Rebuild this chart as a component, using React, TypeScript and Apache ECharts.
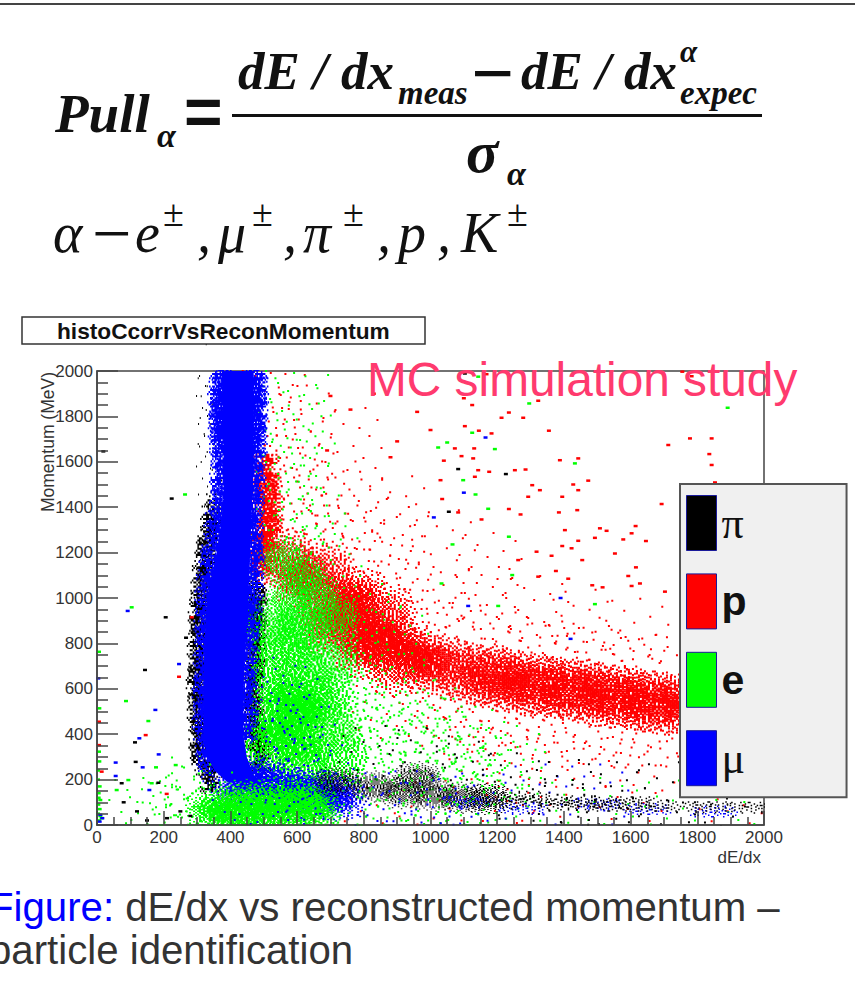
import React, { useEffect, useRef } from "react";
import * as echarts from "echarts";

const xTicks = { min: 0, max: 2000, interval: 200 };
const yTicks = { min: 0, max: 2000, interval: 200 };
const legendNames = ["π", "p", "e", "μ"];

// Hand-drawn speckle textures: one stamp marks a read-off patch of the cloud.
const cloud = [
  "..............#.................","........#...........#...........","............#....#.......#......",".....#.........#......#.........",
  "..........#.#.....##.......#....","...#....#.....#.#....#.#........","......#...#.##....#.#.....#.....","..#.....#.#...#.##...##.#....#..",
  ".....#.#..##.#.##.#.#...#.#.....","...#...#.#..###.#.##.##.#...#...",".#...#..##.#.###.##.#.#.#.#.....","....#.#.#.###.####.###.#..#..#..",
  "..#..#.##.##.###.###.##.#.#.....","#...#.#.###.#####.###.##.#..#...","...#.#.###.###.####.##.##.#...#.",".#..#.##.#####.####.###.#.#.#...",
  "...#.#.###.####.#####.##.#..#..#","#...#.##.#####.###.###.#.#.#....","..#..#.###.##.#####.##.##..#..#.","....#.#.###.####.###.###.#.#....",
  ".#...#.#.##.###.###.##.#.#...#..","...#...##.#.##.###.##.#.#.#.....",".....#.#.#.##.#.###.#.##.#..#...","..#....#.#..##.##.#.#.#...#.....",
  "....#...#.#.#.#.#.##.#.#....#...","..#...#....#.#..#.#...#...#.....",".....#..#....#.#...#.#.......#..","...#.......#.....#.....#..#.....",
  ".......#.....#.....#.......#....",".........#.......#.....#........","...........#..#......#..........","...............#................",
];
const strip = [
  "...#.....#......##....#.....#...",".#....#......#.....#......#....#","....#...##.#...#.....#.#.....#..","#.....#.....#....##.......#.....",
  "..#.....#.#....#.....#.#....#...",".....#......#.....#.......#.....","...#....#......#......#.....#...","........#....#.......#..........",
];
const sparse = [
  [3,1],[17,0],[28,4],[9,6],[22,9],[0,11],[14,12],[31,13],[6,17],[25,18],[11,21],[19,23],[2,25],[29,26],[8,31],[23,30],
];

// Black (π)
const piHaloLeft = [[345,1330],[328,1190],[316,1050],[308,910],[305,770],[302,630],[305,490],[310,350],[340,240]];
const piHaloTop = [[345,1540],[350,1700],[345,1850],[350,1990]];
const piHaloRight = [[478,980],[478,860],[474,720],[470,580],[475,440],[490,330]];
const piLowCloud = [[720,190],[830,170],[920,140],[1010,130],[1100,120],[960,210],[1170,115]];
const piLowStrip = [[1230,100],[1380,90],[1530,85],[1680,85],[1830,78],[1960,76],[1300,125],[1450,105],[1600,100]];
const piSparse = [[1250,180],[1400,150],[1550,140],[1700,140],[1850,60],[1300,50],[1500,50],[820,300],[980,290],[1100,230]];
const piSingles = [[1103,1989],[1083,1568],[1226,1546],[1055,1380],[224,1438],[19,1646],[206,915],[267,825],[144,683],[114,364],[116,278],[74,184],[184,186],[120,60],[150,20],[210,30],[250,60],[80,100],[280,40]];

// Red (p)
const pBandSolid = [[620,1090],[740,945],[800,880],[860,825],[920,775],[980,730],[780,1000],[700,880],[800,780]];
const pBandLeft = [[560,1180],[680,1010],[1040,695],[1100,672],[680,1120],[860,930],[900,700]];
const pBandRight = [[1160,655],[1220,640],[1280,625],[1340,612],[1400,600],[1460,588],[1520,575],[1580,560],[1640,548],[1700,535],[1760,525],[1190,660],[1310,610],[1430,600],[1550,565],[1670,540]];
const pStem = [[510,1300],[515,1420],[505,1540],[500,1200]];
const pFringe = [[1000,900],[1070,860],[1140,830],[1210,800],[1280,780],[1350,760],[1420,750],[1490,740],[1560,720],[1630,700],[1700,690],[1000,560],[1070,520],[1140,490],[1210,470],[1280,450],[1350,430],[1420,420],[1490,410],[1560,390],[1630,390],[1700,400],[600,1350],[680,1260],[640,1430],[760,1200],[840,1130],[920,1020],[1000,1000],[560,1650],[600,1500],[520,1850],[530,1960],[510,1700],[620,1800],[760,1700],[700,1500],[900,1400],[860,1300],[1040,1250],[1180,1150],[1160,1000],[1320,960],[1450,900],[1620,860],[900,1120],[780,1420],[1050,450],[1250,330],[1450,300],[1650,280],[860,520],[1150,250],[1350,120],[1600,40],[1000,60],[1900,30],[1250,40],[800,30]];
const pSingles = [[1778,1703],[1843,1703],[1836,1634],[1843,1586],[1853,1509],[1713,1674],[1355,1737],[1235,1817],[1213,1794],[1278,1794],[1103,1757],[1145,1737],[1183,1725],[1073,1659],[1131,1659],[1093,1625],[1128,1615],[1040,1605],[1143,1563],[1176,1556],[1253,1563],[1285,1566],[1388,1607],[1443,1615],[1473,1517],[1428,1500],[1443,1475],[1305,1497],[1328,1475],[1395,1446],[1293,1446],[1133,1534],[1030,1519],[1693,1414],[1235,1392],[1270,1368],[1385,1377],[1440,1387],[1153,1346],[1083,1377],[1035,1436],[1403,1299],[1508,1307],[1528,1296],[1603,1285],[1615,1317],[1493,1265],[1578,1258],[1646,1251],[1443,1252],[1395,1229],[1423,1219],[1553,1196],[1455,1167],[1616,1135],[1363,1186],[1318,1204],[1263,1167],[1593,1097],[1628,1064],[1603,1053],[1703,1028],[1485,1056],[1516,1047],[1376,1119],[1413,1085],[1323,1094],[1168,1986],[1783,1977],[1755,1997],[1323,1869],[1125,1850],[284,915],[246,653],[146,396],[14,235],[209,137],[6,455],[6,352],[900,1690],[960,1820],[830,1900],[760,1830],[1000,1740],[880,1620],[700,1890],[690,1650],[1100,1880]];

// Green (e)
const eCore = [[560,560],[590,460],[540,420],[600,340],[640,520]];
const eHalo = [[540,680],[620,660],[680,560],[700,420],[720,300],[620,240],[500,300],[560,780],[520,880],[620,860],[700,720]];
const eUpper = [[560,1170],[620,1090],[580,1000],[660,1000],[720,920],[600,900]];
const eFringe = [[760,600],[780,500],[800,400],[760,330],[860,300],[880,450],[940,540],[960,380],[1000,280],[1060,340],[1080,240],[900,620],[1120,290],[1180,260],[1240,230],[830,230],[700,650],[720,520],[660,780],[570,860],[830,380],[900,320],[760,450],[560,1300],[620,1260],[590,1400],[650,1350],[700,1180],[780,960],[540,1500],[600,1560],[620,1720],[560,1640],[580,1840],[600,1960],[830,880],[900,820],[270,100],[300,170],[1000,420],[1060,420],[1140,370],[760,700],[840,560],[1000,500],[1100,180],[1250,300]];
const eLowCloud = [[400,50],[480,50],[560,55],[640,60],[360,70],[440,100],[540,110],[620,110]];
const eLowFringe = [[300,50],[260,90],[330,130],[700,40],[750,60],[820,60],[230,60],[180,30],[130,70],[900,60],[960,70],[1020,40],[1080,70],[1140,40],[1200,60],[1320,50],[1500,70],[1700,60],[1950,70],[880,170],[1000,180],[1120,150]];
const eSingles = [[1143,1975],[1891,1838],[1296,1857],[1125,1728],[1193,1656],[1050,1685],[1023,1663],[1433,1593],[1098,1519],[1135,1456],[1173,1393],[1235,1270],[1066,1236],[1245,1101],[1033,1064],[1203,965],[1493,973],[264,1456],[104,959],[87,546],[154,458],[177,254],[236,264],[164,184],[94,198],[59,154],[6,763],[7,514],[6,323],[3,200],[8,170],[5,140],[10,110],[4,90],[8,70],[3,50],[10,40],[6,20],[14,30],[5,120],[3,240],[7,280]];

// Blue (μ)
const muEdgeLeft = [[374,2000],[377,1800],[380,1600],[379,1400],[359,1200],[330,1000],[322,800],[319,600],[319,400],[330,300],[352,240],[390,190]];
const muEdgeRight = [[469,2000],[470,1800],[470,1600],[464,1400],[459,1200],[454,1000],[446,800],[439,600],[439,400],[449,300],[470,220],[500,180]];
const muHaloTop = [[372,1950],[370,1800],[372,1660],[372,1520],[372,1400],[478,1950],[478,1800],[476,1660],[472,1520],[468,1400],[465,1280],[480,1880],[366,1880],[475,1730],[368,1730]];
const muHaloLow = [[355,1300],[340,1150],[328,1010],[325,870],[323,730],[320,590],[320,450],[330,320],[470,1170],[465,1030],[458,890],[452,750],[448,610],[450,470]];
const muBlob = [[480,210],[540,170],[600,150],[670,140],[720,120],[430,160],[540,110]];
const muFringe = [[440,70],[520,70],[600,70],[660,80],[760,110],[850,100],[950,100],[1050,90],[1150,85],[540,300],[600,330],[500,420],[520,600],[580,560],[1000,60],[580,200],[620,420],[540,480],[660,250],[1300,130],[1500,130]];
const muStrip = [[1280,70],[1500,90],[1650,70],[1850,60],[1120,100]];
const muSingles = [[1165,1707],[1100,1464],[1010,1355],[1113,965],[92,943],[246,709],[175,507],[127,382],[185,311],[137,254],[56,275],[56,216],[157,154],[4,646],[10,45],[16,30],[8,15],[1420,820],[1390,1000]];

const pixels = (rows: string[]) =>
  "path://" +
  rows
    .map((row, y) =>
      row.replace(/#+/g, (run, x) => `M${x} ${y}h${run.length}v1h-${run.length}z`)
    )
    .join("");
const flipX = (rows: string[]) => rows.map((r) => r.split("").reverse().join(""));
const flipY = (rows: string[]) => [...rows].reverse();
const variants = (rows: string[]) => [pixels(rows), pixels(flipX(rows)), pixels(flipY(rows)), pixels(flipY(flipX(rows)))];
const sparseGlyph = "path://" + sparse.map(([x, y]) => `M${x} ${y}h1v1h-1z`).join("");
const thinRows = cloud.map((r) => r.replace(/##/g, "#."));
const cloudGlyphs = variants(cloud);
const thinGlyphs = variants(thinRows);
const narrowGlyphs = variants(cloud.map((r) => r.split("").filter((_, i) => i % 2 === 0).join("")));
const stripGlyphs = variants(strip);
const colours: Record<string, string> = { "π": "#000000", p: "#ff0000", e: "#00ff00", "μ": "#0000ff" };

const stamps = (name: string, data: number[][], glyphs: string[], z: number, size: number | number[] = 64) => ({
  type: "scatter", name, data, symbolSize: size, z, silent: true,
  symbol: (_v: unknown, p: { dataIndex: number }) => glyphs[p.dataIndex % glyphs.length],
  itemStyle: { color: colours[name], opacity: 1 },
});
const fringe = (name: string, data: number[][], z: number, size: number | number[] = 64) => ({
  ...stamps(name, data, [sparseGlyph], z, size),
  symbolRotate: (_v: unknown, p: { dataIndex: number }) => (p.dataIndex % 2) * 180,
});
const dots = (name: string, data: number[][]) => ({
  type: "scatter", name, data, symbol: "rect", symbolSize: [4, 2.5], z: 9, silent: true,
  itemStyle: { color: colours[name], opacity: 1 },
});

const serif = "'Liberation Serif'";
const sans = "'Liberation Sans'";
const txt = (text: string, x: number, base: number, size: number, weight = "normal", italic = true, family = serif, fill = "#111111") => ({
  type: "text", z: 40, silent: true,
  style: {
    text, x, y: base - size * 0.34, fill,
    font: `${italic ? "italic " : ""}${weight} ${size}px ${family}`,
    align: "left", verticalAlign: "middle",
  },
});
const mask = (x: number, y: number, width: number, height: number) => ({
  type: "rect", z: 9.5, silent: true, shape: { x, y, width, height }, style: { fill: "#ffffff" },
});

function buildOption() {
  const axisStyle = { lineStyle: { color: "#444444", width: 1.5 } };
  const labelStyle = { fontFamily: sans, fontSize: 17, color: "#333333" };
  const plain = (v: number) => String(v);
  return {
    animation: false,
    backgroundColor: "#ffffff",
    title: {
      text: "histoCcorrVsReconMomentum", left: 22, top: 317, z: 45,
      padding: [2, 35, 2, 35], borderColor: "#333333", borderWidth: 1.5, backgroundColor: "#ffffff",
      textStyle: { fontFamily: sans, fontWeight: "bold", fontSize: 22.7, color: "#111111" },
    },
    legend: {
      left: 680, top: 484, orient: "vertical", z: 20, selectedMode: false,
      padding: [11, 100, 11, 6], itemWidth: 30, itemHeight: 55, itemGap: 22.4, icon: "rect",
      backgroundColor: "#f0f0f0", borderColor: "#555555", borderWidth: 2,
      itemStyle: { borderColor: "#1a1a9a", borderWidth: 1 },
      data: [
        { name: legendNames[0], textStyle: { fontFamily: serif, fontSize: 44, color: "#111111" } },
        { name: legendNames[1], textStyle: { fontFamily: sans, fontWeight: "bold", fontSize: 41, color: "#111111" } },
        { name: legendNames[2], textStyle: { fontFamily: sans, fontWeight: "bold", fontSize: 41, color: "#111111" } },
        { name: legendNames[3], textStyle: { fontFamily: serif, fontSize: 44, color: "#111111" } },
      ],
    },
    grid: { left: 97, top: 371, width: 667, height: 454, show: true, borderColor: "#444444", borderWidth: 1.5, backgroundColor: "#ffffff" },
    xAxis: {
      type: "value", ...xTicks, z: 41, name: "dE/dx", nameLocation: "end", nameGap: 0,
      nameTextStyle: { ...labelStyle, align: "right", verticalAlign: "top", padding: [24, 3, 0, 0] },
      axisLine: axisStyle, splitLine: { show: false },
      axisTick: { inside: true, length: 14, ...axisStyle },
      minorTick: { show: true, splitNumber: 4, length: 8, lineStyle: { color: "#444444", width: 1.5 } },
      axisLabel: { ...labelStyle, margin: 4, formatter: plain },
    },
    yAxis: {
      type: "value", ...yTicks, z: 41,
      axisLine: axisStyle, splitLine: { show: false },
      axisTick: { inside: true, length: 21, ...axisStyle },
      minorTick: { show: true, splitNumber: 4, length: 11, lineStyle: { color: "#444444", width: 1.5 } },
      axisLabel: { ...labelStyle, margin: 4, formatter: plain },
    },
    series: [
      stamps("π", piHaloLeft, narrowGlyphs, 3, [24, 64]),
      fringe("π", piHaloTop, 3, [32, 64]),
      stamps("π", piHaloRight, narrowGlyphs, 3, [24, 64]),
      fringe("p", pFringe, 4),
      stamps("p", pStem, narrowGlyphs, 4, [32, 64]),
      stamps("p", pBandRight, thinGlyphs, 4),
      stamps("p", pBandLeft, thinGlyphs, 4),
      stamps("p", pBandSolid, cloudGlyphs, 4),
      fringe("e", eFringe, 5),
      stamps("e", eUpper, thinGlyphs, 5, 48),
      stamps("e", eHalo, thinGlyphs, 5),
      stamps("e", eCore, cloudGlyphs, 5),
      stamps("μ", muHaloTop, narrowGlyphs, 6, [24, 64]),
      stamps("μ", muHaloLow, narrowGlyphs, 6, [24, 64]),
      stamps("μ", muBlob, cloudGlyphs, 6, [64, 48]),
      {
        type: "custom", name: "μ", z: 6, silent: true, data: [[0, 0]],
        itemStyle: { color: colours["μ"] },
        renderItem: (_p: unknown, api: { coord: (v: number[]) => number[] }) => ({
          type: "polygon",
          shape: { points: [...muEdgeLeft, ...[...muEdgeRight].reverse()].map((v) => api.coord(v)) },
          style: { fill: colours["μ"] },
        }),
      },
      stamps("e", eLowCloud, cloudGlyphs, 7, [64, 48]),
      stamps("π", piLowCloud, thinGlyphs, 7, [48, 32]),
      fringe("e", eLowFringe, 8),
      fringe("μ", muFringe, 8),
      stamps("μ", muStrip, stripGlyphs, 8, [48, 12]),
      fringe("π", piSparse, 8),
      stamps("π", piLowStrip, stripGlyphs, 8, [48, 12]),
      dots("π", piSingles),
      dots("p", pSingles),
      dots("e", eSingles),
      dots("μ", muSingles),
    ],
    graphic: [
      mask(0, 346, 855, 24),
      mask(0, 346, 96, 534),
      mask(765, 346, 90, 534),
      mask(0, 826, 855, 54),
      { type: "rect", z: 40, silent: true, shape: { x: 0, y: 3, width: 855, height: 2 }, style: { fill: "#444444" } },
      txt("Pull", 55, 132, 55, "bold"),
      txt("α", 157, 147, 34, "bold"),
      txt("=", 184, 134, 66, "bold", false, sans),
      { type: "rect", z: 40, silent: true, shape: { x: 232, y: 114, width: 530, height: 3 }, style: { fill: "#111111" } },
      txt("dE / dx", 238, 89, 53, "bold"),
      txt("meas", 398, 104, 33, "bold"),
      txt("−", 471, 99, 76, "bold", false),
      txt("dE / dx", 521, 89, 53, "bold"),
      txt("α", 680, 62, 31, "bold"),
      txt("expec", 680, 104, 33, "bold"),
      txt("σ", 466, 172, 60, "bold"),
      txt("α", 507, 185, 34, "bold"),
      txt("α", 53, 252, 56),
      txt("−", 92, 257, 70, "normal", false),
      txt("e", 135, 252, 56),
      txt("±", 163, 226, 38, "normal", false),
      txt(",", 197, 252, 56),
      txt("μ", 218, 252, 56),
      txt("±", 252, 226, 38, "normal", false),
      txt(",", 283, 252, 56),
      txt("π", 303, 252, 56),
      txt("±", 343, 226, 38, "normal", false),
      txt(",", 377, 252, 56),
      txt("p", 398, 252, 56),
      txt(",", 437, 252, 56),
      txt("K", 461, 252, 56),
      txt("±", 507, 226, 38, "normal", false),
      txt("MC simulation study", 367, 396, 47.8, "normal", false, sans, "#ff3a6e"),
      {
        type: "text", z: 40, silent: true, x: 48, y: 442, rotation: Math.PI / 2,
        style: { text: "Momentum (MeV)", font: `17.5px ${sans}`, fill: "#333333", align: "center", verticalAlign: "middle" },
      },
      {
        type: "text", z: 40, silent: true,
        style: {
          x: -11, y: 907, align: "left", verticalAlign: "middle", font: `40.2px ${sans}`, fill: "#333333",
          text: "{b|Figure:} dE/dx vs reconstructed momentum –",
          rich: { b: { fill: "#0000ff", font: `40.2px ${sans}` } },
        },
      },
      txt("particle identification", -11, 964, 40.2, "normal", false, sans, "#333333"),
    ],
  };
}

export default function App() {
  const ref = useRef<HTMLDivElement>(null);
  useEffect(() => {
    const chart = echarts.init(ref.current!, undefined, { renderer: "svg" });
    chart.setOption(buildOption() as never);
    return () => chart.dispose();
  }, []);
  return <div ref={ref} style={{ position: "fixed", left: 0, top: 0, width: 855, height: 982 }} />;
}
